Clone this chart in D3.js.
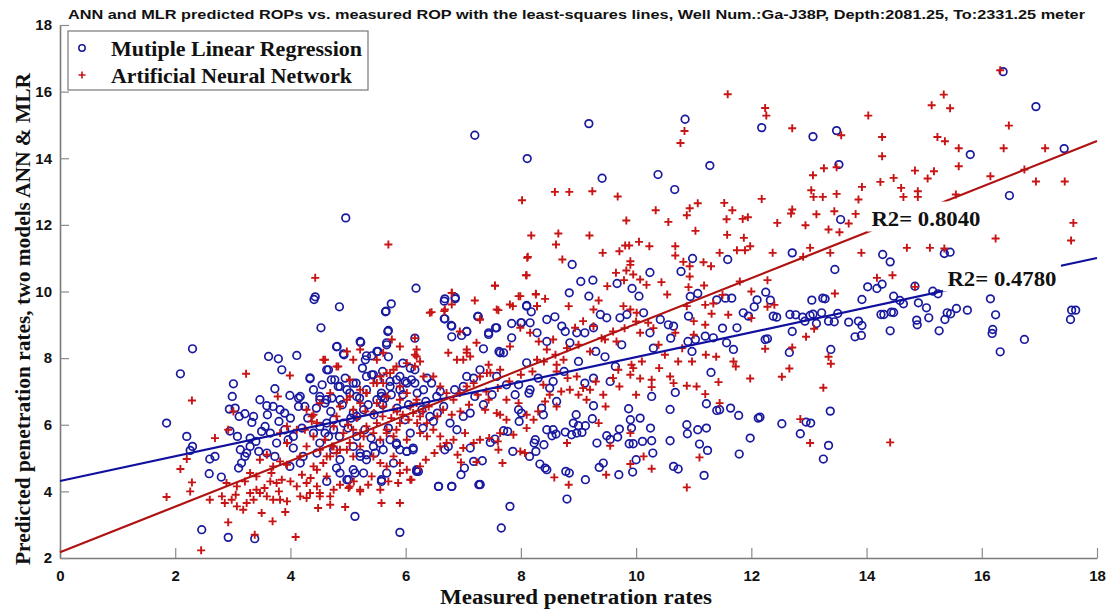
<!DOCTYPE html>
<html>
<head>
<meta charset="utf-8">
<script src="https://cdn.jsdelivr.net/npm/d3@7"></script>
<style>
  html, body { margin: 0; padding: 0; background: #fff; }
  svg { display: block; }
</style>
</head>
<body>
<svg id="chart" width="1110" height="612"></svg>
<script>
// ---- data: [measured ROP, predicted ROP] ----
const mlrPoints = [
  [16.37,16.6],[16.94,15.55],[12.18,14.92],[13.07,14.65],[13.48,14.83],[13.52,13.81],[15.8,14.11],[17.43,14.29],[16.48,12.88],[13.55,12.16],
  [10.85,15.17],[9.18,15.04],[7.2,14.69],[8.11,13.99],[9.41,13.4],[10.38,13.51],[11.28,13.78],[10.67,13.06],
  [8.89,10.81],[9.04,10.3],[9.25,10.34],[8.84,9.96],[10.24,10.57],[10.78,10.6],[10.98,10.99],[11.59,10.96],[9.67,10.24],[9.93,10.09],[9.18,9.86],[10.05,9.86],[10.94,9.85],[11.07,9.94],[11.55,9.8],[11.66,9.8],[6.68,9.78],[6.86,9.82],
  [4.96,12.21],[6.18,10.1],[4.43,9.84],
  [12.71,11.16],[14.28,11.11],[14.41,10.89],[15.35,11.14],[15.45,11.18],[13.45,10.66],[14.02,10.14],[14.18,10.09],[14.27,10.22],[14.84,10.16],[15.15,10.01],[15.24,9.93],[12.25,9.98],[12.33,9.74],[12.05,9.54],[13.05,9.74],[13.24,9.8],[13.28,9.78],[13.92,9.76],[14.47,9.86],[14.58,9.73],[14.64,9.63],[14.9,9.66],[15.04,9.51],
  [12.38,9.26],[12.44,9.23],[12.67,9.31],[12.77,9.3],[12.89,9.23],[12.93,9.11],[13.02,9.28],[13.07,9.32],[13.13,9.04],[13.22,9.36],[13.34,9.11],[13.44,9.09],[13.5,9.34],[13.69,9.08],[13.86,9.11],[13.92,8.98],[13.8,8.64],[13.91,8.68],[14.25,9.31],[14.3,9.31],[14.43,9.38],[14.47,9.37],[14.41,8.82],[14.87,9.14],[14.88,9.0],[15.08,9.21],[15.26,8.82],[15.36,9.16],[15.4,9.36],[15.46,9.33],[15.56,9.49],[15.75,9.44],[16.15,9.78],[16.24,9.3],[16.19,8.86],[16.18,8.74],[16.32,8.19],[16.74,8.56],[17.56,9.44],[17.63,9.44],[17.54,9.16],
  [12.71,8.8],[12.24,8.56],[12.28,8.58],[12.66,8.17],[13.38,8.26],[13.37,6.41],[12.15,6.23],[12.53,6.03],[12.95,6.08],[13.03,6.05],[12.85,5.73],[13.34,5.38],[13.25,4.97],
  [10.27,6.85],[10.59,6.46],[10.68,6.97],[11.22,6.63],[11.3,7.57],[11.4,6.43],[11.45,6.45],[11.64,6.5],[11.78,6.28],[12.12,6.2],[11.98,5.6],[11.79,5.12],[10.88,6.0],[10.89,5.73],[11.07,5.85],[11.22,5.9],[11.1,5.42],[11.24,5.23],[11.18,4.48],[10.65,4.75],[10.73,4.67],[10.59,5.52],[10.29,5.15],[10.25,5.9],[10.27,5.52],[10.11,5.5],[10.07,6.2],[9.9,6.15],[9.87,6.48],[9.92,5.9],[9.88,5.43],[9.95,5.43],[9.71,5.87],[9.68,5.63],[9.49,5.67],[9.55,5.56],[9.32,5.45],[10.0,4.95],[9.94,4.58],[9.7,4.5],[9.43,4.85],[9.36,4.72],[9.12,4.35],[8.78,4.6],[8.84,4.55],[8.8,3.77],
  [8.97,5.75],[9.06,5.77],[9.0,5.97],[9.12,5.97],[8.91,6.05],[8.96,6.3],[9.24,6.18],[9.26,6.57],[8.88,5.7],[8.77,5.78],[8.56,5.85],[8.61,5.72],[8.54,5.67],[8.45,5.85],[8.4,5.4],[8.33,4.82],[8.42,4.7],[8.45,4.65],[8.26,5.2],[8.25,5.55],[8.23,5.45],[8.15,5.05],[7.81,3.55],[7.66,2.9],[7.27,4.2],[7.29,4.21],[6.8,4.15],[6.57,4.15],[6.96,4.5],[7.02,4.7],[7.18,4.9],[7.33,4.92],[7.12,5.3],[7.86,5.2],[7.7,5.82],[7.77,5.8],[7.47,5.47],[7.55,5.57],[7.96,6.45],[8.01,6.35],[7.97,6.1],[8.16,7.05],[8.14,6.95],[8.62,6.7],[8.39,6.3],[8.36,6.5],
  [6.68,9.18],[6.8,8.96],[7.06,8.8],[7.25,9.25],[7.44,8.76],[7.58,8.91],[7.35,8.28],[7.62,8.2],[7.7,8.16],[7.84,9.04],[8.01,9.06],[8.1,9.58],[8.28,8.76],[8.45,8.5],[8.59,9.24],[8.71,8.96],[8.77,8.8],[8.85,8.46],[8.97,8.76],[9.11,8.76],[9.26,8.91],[9.38,9.31],[9.49,9.21],[9.72,9.21],[9.84,9.31],[9.46,8.04],[9.64,7.75],[9.55,7.3],[9.26,7.4],[9.11,7.25],[8.56,7.3],[8.1,7.86],[7.96,7.2],[7.75,7.2],[7.58,7.45],[7.18,7.4],[7.29,7.65],[7.0,7.15],[7.06,7.45],
  [10.13,9.36],[10.24,8.76],[10.42,9.16],[10.56,9.0],[10.65,8.96],[10.91,9.26],[11.03,8.56],[11.2,8.66],[11.34,8.61],[11.57,8.46],[11.69,8.26],[11.86,9.36],[11.95,9.26],[11.75,8.91],[10.97,8.2],[11.4,9.75],[12.1,9.75],
  [2.3,8.28],[2.09,7.53],[1.85,6.05],[2.2,5.65],[2.3,5.35],[2.26,5.23],[2.46,2.85],[2.92,2.62],[3.38,2.58],[5.12,3.25],[5.9,2.77],[2.59,4.53],[2.8,4.43],[3.01,7.23],[2.99,6.85],[2.94,6.47],[3.04,6.5],[2.95,5.81],[2.69,5.05],[2.6,4.97],
  [3.11,6.25],[3.21,6.33],[3.36,6.25],[3.33,6.07],[3.08,5.65],[3.3,5.6],[3.13,5.25],[3.24,5.15],[3.15,4.85],[3.1,4.7],[3.21,5.05],[3.47,6.75],[3.59,6.57],[3.7,6.55],[3.82,6.45],[3.9,6.35],[3.62,8.05],[3.79,7.98],[3.85,7.65],[4.11,8.08],[3.73,7.08],[3.99,6.88],[4.14,6.8],[3.56,5.95],[3.65,5.75],[3.76,5.45],[3.59,5.15],[3.73,5.05],[3.96,5.55],[4.05,5.3],[4.17,4.85],[4.22,5.05],[3.99,4.75],
  [4.34,7.38],[4.53,8.91],[4.41,9.76],[4.85,9.54],[5.65,9.39],[5.75,9.63],[5.69,8.8],[5.67,8.46],[4.81,8.35],[4.93,8.1],[5.22,8.47],[5.3,7.95],[5.41,8.07],[5.5,8.2],[5.7,8.04],[4.63,7.65],[4.71,7.35],[4.4,7.05],[4.51,6.75],[4.63,6.75],[4.25,6.55],[4.14,6.55],[4.83,7.15],[4.86,6.75],[4.98,7.05],[5.09,7.25],[5.15,6.85],[5.32,7.45],[5.44,7.5],[5.5,6.75],[5.58,6.85],[5.73,7.15],[5.84,7.35],[5.99,7.3],[6.08,7.7],[6.16,7.65],[6.16,8.6],[6.1,7.35],
  [5.09,6.35],[5.15,6.25],[5.27,6.45],[4.63,6.05],[4.75,6.15],[4.4,5.75],[4.51,5.45],[4.46,5.15],[4.75,5.25],[4.86,4.95],[4.8,4.7],[5.01,4.35],[5.12,4.55],[5.27,4.55],[4.63,4.3],[5.58,4.3],[5.67,4.55],[5.09,5.35],[5.21,5.15],[5.32,5.1],[5.47,5.15],[5.73,5.55],[5.84,5.4],[5.79,4.85],[6.02,5.2],[6.13,5.3],[6.19,4.6],[6.22,4.6],[5.99,6.15],[6.08,5.75],[6.28,6.45],[6.37,7.4],
  [5.66,9.41],[5.7,8.83],[5.21,8.5],[4.8,8.34],[4.92,8.13],[5.32,8.07],[5.52,8.2],[5.67,8.4],[6.67,9.71],[6.86,9.78],[6.67,9.18],[6.79,8.98],[6.8,8.64],[6.97,8.68],[7.06,8.8],[7.26,9.25],[7.44,8.71],[7.56,8.91],[7.64,8.16],[7.84,8.61],[8.0,9.06],[8.16,9.06],[8.1,9.56],[8.18,9.39],[8.45,9.16],
  [4.17,6.85],[4.34,7.41],[4.51,6.85],[4.6,6.65],[4.72,6.8],[4.66,7.65],[4.77,7.35],[4.86,7.15],[5.03,6.95],[5.14,7.25],[5.32,7.05],[5.41,7.5],[5.52,7.35],[5.64,6.8],[5.58,6.95],[5.73,7.3],[5.9,7.05],[6.02,7.25],[5.9,7.45],[6.16,7.25],[6.31,7.05],[6.45,7.25],[6.54,6.85],[6.66,6.55],[6.77,6.05],[6.89,5.85],[7.0,6.25],[7.12,6.35],
  [4.51,5.95],[4.66,5.65],[4.75,5.85],[4.92,6.05],[5.15,5.65],[5.29,5.85],[5.44,5.35],[5.61,5.25],[5.84,5.45],[5.9,5.25],[6.02,5.2],[6.13,5.25],[6.48,6.1],[6.42,6.25],[5.21,5.05],[5.32,4.95],[5.09,4.65],[4.98,4.35],[4.86,4.55],[5.58,4.35],[6.19,4.65],[6.57,4.15],[6.8,4.15],[7.29,4.2],[6.68,5.25],[6.74,5.35],
  [4.3,6.2],[4.45,6.5],[4.7,6.4],[4.9,6.6],[5.05,6.2],[5.2,6.8],[5.35,6.6],[5.45,6.3],[5.6,6.6],[5.75,6.9],[5.85,6.5],[5.95,6.9],[6.05,6.6],[6.2,6.95],[6.35,6.7],[4.55,7.2],[4.95,7.4],[5.25,7.7],[5.6,7.6],[5.95,7.85],
  [3.4,5.5],[3.5,5.8],[3.6,6.3],[3.8,6.1],[3.9,5.85],[3.3,5.35],[3.45,5.2],[4.0,6.2],[4.2,5.9],[4.05,5.65],[4.6,5.75],[4.85,5.65],[5.0,5.9],[5.4,5.6],[5.7,5.9],[5.55,5.45],[6.3,5.9],[6.55,6.35],[6.6,7.0],[6.85,7.05],
  [7.2,6.85],[7.35,6.6],[7.5,6.9],[7.9,6.9],[8.3,7.4],[8.5,7.1],[8.75,7.6],[9.0,7.9],[9.3,8.2],[9.75,8.4],[10.3,8.3],[10.6,8.6],[10.9,8.5],[11.5,8.9]
];

const annPoints = [
  [11.59,15.92],[10.84,14.82],[10.77,14.46],[8.02,12.74],[8.59,12.99],[8.84,12.99],[9.24,13.01],[9.68,12.85],[9.83,12.13],[10.56,12.09],[10.34,12.44],[10.93,12.5],[11.07,12.65],[10.88,12.29],[11.03,11.82],[11.53,12.66],[11.67,12.44],[11.57,12.17],[11.85,12.18],[11.94,12.23],[11.58,11.7],[11.87,11.61],[11.98,11.36],[11.75,11.24],[11.89,11.24],[11.45,11.16],
  [8.18,11.68],[8.65,11.74],[8.61,11.41],[9.19,11.68],[8.11,11.01],[8.72,10.96],[8.09,10.49],[7.55,10.17],[6.8,9.96],[7.96,9.86],[8.26,9.91],[9.42,11.16],[9.71,11.21],[9.81,11.38],[9.88,11.38],[10.05,11.49],[10.23,11.36],[9.9,10.91],[9.9,10.8],[9.65,10.56],[9.83,10.63],[9.95,10.51],[10.07,10.36],[9.79,10.34],[9.5,10.16],[10.18,10.2],[10.44,10.28],[10.68,11.08],[10.68,11.36],[10.82,10.89],[10.93,10.76],[10.93,10.45],[10.91,10.13],[11.18,10.18],[11.3,10.76],[11.17,10.88],[10.54,9.91],
  [5.7,11.41],[4.43,10.41],
  [12.24,15.51],[12.26,15.28],[12.71,14.9],[14.03,15.28],[13.56,14.69],[15.13,15.59],[15.34,15.91],[15.45,15.5],[16.32,16.64],[16.47,14.98],[14.27,14.64],[14.27,14.06],[15.23,14.64],[15.36,14.51],[15.6,14.3],[15.6,13.76],[16.38,14.3],[17.1,14.3],[16.15,13.46],[16.74,13.66],[16.94,13.3],[17.44,13.3],[15.55,12.91],[14.84,13.63],[15.17,13.61],[15.06,13.39],[14.47,13.41],[14.24,13.29],[14.6,13.11],[14.64,12.84],[14.89,13.01],[14.89,12.84],
  [13.07,13.49],[13.26,13.7],[13.48,13.73],[13.04,13.04],[13.08,12.84],[13.24,12.84],[13.48,12.93],[13.92,13.14],[13.86,12.76],[12.18,12.78],[12.71,12.46],[12.69,12.34],[13.13,12.32],[13.44,12.41],[13.81,12.33],[12.45,12.06],[12.94,11.99],[13.34,11.86],[13.53,11.78],[13.69,12.04],[17.59,12.06],[17.55,11.53],[16.24,11.59],[13.02,11.31],[14.7,11.31],[15.1,11.31],[15.35,11.29],
  [12.37,11.16],[12.9,11.04],[13.37,11.16],[13.91,11.16],[14.18,10.41],[14.45,10.49],[12.28,10.34],[12.28,9.54],[13.45,9.94],[14.84,10.14],[12.95,8.64],[13.09,8.88],[12.24,8.28],[12.71,8.32],[12.66,7.69],[12.53,7.44],[13.34,8.04],[13.38,7.83],[13.25,7.11],[12.85,6.17],[13.02,5.45],[14.41,5.47],
  [11.5,9.9],[11.8,10.3],[12.0,10.0],[11.2,9.6],
  [10.88,4.12],[11.1,5.02],[10.27,4.68],[10.13,5.05],[9.9,4.82],[9.48,4.5],[8.83,4.2],[8.58,4.42],[7.68,4.85],[6.96,4.87],[7.23,4.88],[7.61,5.25],[8.07,5.15],[9.55,5.37],[9.9,5.75],[11.98,7.39],[11.43,7.28],[11.2,6.92],[11.45,6.65],[11.05,7.15],[10.88,7.17],[10.73,7.9],[10.97,7.9],[10.59,7.45],[10.65,7.25],[10.27,7.35],[10.27,7.13],[10.07,7.39],[10.0,6.9],[9.71,7.15],[9.92,7.8],[9.95,7.7],[11.21,8.1],[11.39,8.04],[11.69,7.9],[11.73,7.75],[10.39,8.4],[10.68,8.76],[11.34,9.64],[11.31,9.33],
  [9.14,6.75],[9.43,6.9],[9.47,6.55],[9.2,7.05],[9.08,7.1],[8.85,7.05],[8.97,7.45],[8.81,7.4],[8.62,7.6],[8.42,6.7],[8.39,7.2],[8.22,6.15],[8.1,5.9],[7.96,6.65],[7.75,6.75],[7.64,6.3],[7.58,6.35],[7.75,6.15],[7.44,6.75],[7.38,6.45],[7.29,5.55],[7.18,5.45],[7.03,5.75],[7.64,5.75],[7.87,5.7],[7.99,5.2],[8.8,5.45],[9.35,6.05],[8.62,6.55],
  [6.42,9.36],[6.68,9.46],[6.94,8.8],[7.12,8.05],[7.0,7.95],[7.06,8.16],[7.29,9.16],[7.23,8.46],[7.44,7.8],[7.47,7.56],[7.58,9.46],[7.81,9.61],[7.81,8.35],[7.64,7.65],[7.99,8.91],[8.16,8.76],[8.28,9.56],[8.31,8.5],[8.45,8.26],[8.28,7.95],[8.56,8.56],[8.62,7.8],[8.74,7.95],[8.94,8.91],[9.08,9.11],[9.26,8.96],[8.83,9.56],[9.35,9.73],[9.26,9.46],[9.46,8.56],[9.66,8.5],[9.78,9.56],[9.9,9.46],[10.01,9.36],[10.07,8.76],[10.21,9.06],[9.69,7.65],[10.88,9.56],[11.0,9.11],
  [1.85,3.83],[2.09,4.67],[2.2,4.97],[2.29,4.27],[2.26,4.0],[2.29,6.73],[2.45,2.23],[2.92,3.07],[3.38,2.7],[4.09,2.63],[3.23,7.53],[3.99,7.48],[3.69,3.1],[3.5,3.35],[3.91,3.38],
  [2.6,3.75],[2.81,3.85],[2.86,3.65],[2.98,3.75],[3.07,3.55],[3.18,3.45],[3.24,3.65],[3.36,3.75],[3.47,3.95],[3.59,3.85],[3.7,3.75],[3.82,3.75],[3.94,3.7],[2.89,4.25],[3.07,4.15],[3.21,4.3],[3.41,4.05],[3.65,4.3],[3.76,4.25],[3.3,4.55],[3.41,4.45],[3.67,4.55],[3.85,4.35],
  [4.11,4.15],[4.17,3.85],[4.28,3.8],[4.46,4.15],[4.51,3.95],[4.69,3.85],[4.86,4.2],[5.01,4.1],[5.21,4.0],[5.56,4.05],[5.58,3.65],[5.9,3.65],[5.87,4.25],[5.9,4.55],[4.48,3.5],[4.69,3.6],[4.95,3.53],
  [2.69,5.6],[2.92,5.85],[3.01,6.4],[3.94,5.45],[4.17,5.05],[4.28,5.35],[3.82,4.9],[3.94,4.8],[3.7,4.75],[3.47,4.95],[3.59,5.1],[4.4,4.75],[4.57,4.85],[4.69,5.05],[4.8,5.15],[4.75,5.35],[4.98,5.25],[5.09,5.05],[5.21,5.35],[5.44,5.05],[5.56,4.85],[5.67,4.75],[5.79,5.05],[6.1,4.35],[6.25,4.75],
  [4.57,7.95],[4.8,7.75],[4.98,8.2],[5.21,8.26],[5.61,8.16],[5.76,8.56],[6.16,8.6],[6.16,8.1],[6.25,7.9],[4.28,6.45],[4.4,6.3],[4.51,6.65],[4.69,6.95],[4.86,6.55],[4.98,6.75],[5.03,7.35],[5.21,7.05],[5.32,6.95],[5.5,7.25],[5.67,7.55],[5.79,7.65],[5.9,7.15],[6.02,6.95],[6.19,6.75],
  [4.75,5.95],[4.92,5.75],[5.09,5.85],[5.27,5.65],[5.44,5.75],[5.56,5.55],[5.67,5.75],[5.84,5.85],[6.02,5.55],[6.25,5.75],[6.37,5.65],[4.11,5.85],[4.37,6.1],[3.94,5.95],[3.82,5.75],[3.78,6.85],
  [8.12,11.04],[8.1,10.49],[7.55,10.18],[6.45,9.38],[6.67,9.41],[6.8,9.96],[6.8,9.61],[7.2,9.73],[7.61,9.44],[7.86,9.56],[7.99,9.86],[8.26,9.93],[8.28,9.56],[8.42,9.78],[7.29,9.16],[6.19,8.05],
  [4.37,6.25],[4.46,6.05],[4.25,5.85],[4.4,5.65],[4.6,5.55],[4.72,5.35],[4.51,5.25],[4.63,5.05],[4.86,5.25],[4.46,4.65],[4.63,4.45],[4.28,4.25],[4.34,3.95],[4.51,3.85],[4.75,4.05],[5.03,4.15],[5.21,4.05],[5.41,4.45],
  [5.03,5.45],[5.21,5.75],[5.32,5.95],[5.5,6.05],[5.67,5.85],[5.79,5.65],[5.9,6.05],[5.5,6.65],[5.61,6.55],[5.67,6.85],[5.79,6.45],[5.9,6.75],[6.08,6.55],[6.19,6.65],[6.13,6.35],[6.25,6.25],[6.37,6.05],[6.48,5.85],[6.6,5.65],[6.71,5.45],[6.83,5.55],[5.9,4.85],[6.02,4.65],[6.08,4.35],
  [5.32,6.95],[5.44,7.25],[5.56,7.45],[5.21,6.65],[5.09,6.45],[5.03,6.85],[5.61,7.25],[5.73,7.55],[5.84,7.75],[6.02,7.85],[6.16,7.75],[6.31,7.45],[6.48,7.45],[6.6,7.15],[6.71,6.95],[6.83,6.75],[6.94,6.95],[7.06,7.15],[7.18,7.25],[7.29,7.45],[7.41,7.55],
  [4.8,6.25],[6.74,8.16],[6.89,7.95],[7.06,8.26],[6.19,8.26],[5.9,8.35],[5.5,7.95],[5.09,7.95],[4.6,7.95],[4.83,7.75],
  [5.0,6.0],[5.15,6.2],[5.3,6.4],[5.45,6.35],[5.6,6.25],[5.75,6.2],[5.85,6.4],[5.95,6.3],[6.05,6.15],[6.2,6.05],[6.3,6.4],[6.4,6.55],[6.55,6.25],[6.65,6.45],[6.8,6.3],[6.95,6.4],[7.1,6.6],[7.25,6.9],[7.4,7.0],[7.6,7.1],[7.8,7.3],[8.0,7.5],[8.2,7.6],[8.4,7.9],[8.6,8.1],[8.8,8.3],[9.0,8.4],[9.2,8.2],[9.4,8.6],[9.6,8.8],[9.8,8.9],[10.0,9.1],
  [3.05,3.9],[3.3,3.95],[3.55,4.1],[3.8,4.0],[4.0,4.3],[4.2,4.5],[4.35,4.4],[5.1,4.3],[5.35,4.2],[5.7,4.3],[6.35,4.95],[6.5,5.15],[6.6,5.35],[6.9,5.1],[7.0,5.3],[7.45,5.6],[7.6,5.5],
  [8.1,6.3],[8.3,6.4],[8.5,6.9],[8.7,7.0],[9.0,6.9],[9.3,7.3],[9.6,7.4],[9.9,7.5],[10.1,7.9],[10.4,7.7],[10.5,8.1],[10.8,8.3],[10.3,8.9],[11.0,8.7],[11.2,9.0],[11.6,9.3],[12.0,9.2],[12.4,9.6]
];

// least-squares lines: predicted = intercept + slope * measured
const mlrFit = { intercept: 4.31, slope: 0.372, r2: "0.4780" };
const annFit = { intercept: 2.17, slope: 0.686, r2: "0.8040" };

const xTicks = [0, 2, 4, 6, 8, 10, 12, 14, 16, 18];
const yTicks = [2, 4, 6, 8, 10, 12, 14, 16, 18];

const titleText = "ANN and MLR predicted ROPs vs. measured ROP with the least-squares lines, Well Num.:Ga-J38P, Depth:2081.25, To:2331.25 meter";
const xLabel = "Measured penetration rates";
const yLabel = "Predicted penetration rates, two models ANN & MLR";
const legendLabels = ["Mutiple Linear Regression", "Artificial Neural Network"];

// ---- drawing ----
const svg = d3.select("#chart");
const x = d3.scaleLinear().domain([0, 18]).range([60, 1097]);
const y = d3.scaleLinear().domain([2, 18]).range([558, 25]);

const BLUE = "#1a1aa0";
const RED = "#c81414";
const BLUE_LINE = "#10109e";
const RED_LINE = "#b01212";
const sans = "'Liberation Sans', Arial, sans-serif";
const serif = "'Liberation Serif', 'Times New Roman', serif";

// title
svg.append("text")
  .attr("x", 68).attr("y", 19)
  .attr("font-family", sans).attr("font-weight", "bold").attr("font-size", 13)
  .attr("textLength", 1017).attr("lengthAdjust", "spacingAndGlyphs")
  .attr("fill", "#111")
  .text(titleText);

// axes
const xAxis = svg.append("g")
  .attr("transform", `translate(0,${y(2)})`)
  .call(d3.axisBottom(x).tickValues(xTicks).tickSizeInner(-10).tickSizeOuter(0).tickPadding(12));
const yAxis = svg.append("g")
  .attr("transform", `translate(${x(0)},0)`)
  .call(d3.axisLeft(y).tickValues(yTicks).tickSizeInner(-9).tickSizeOuter(0).tickPadding(8));

[xAxis, yAxis].forEach(g => {
  g.select(".domain").attr("stroke", "#7a7a7a").attr("stroke-width", 1.6);
  g.selectAll(".tick line").attr("stroke", "#8c8c8c").attr("stroke-width", 1.2);
  g.selectAll(".tick text")
    .attr("font-family", sans).attr("font-weight", "bold").attr("font-size", 15)
    .attr("fill", "#111");
});

// MLR predictions (circles)
svg.append("g").selectAll("circle")
  .data(mlrPoints).join("circle")
  .attr("cx", d => x(d[0])).attr("cy", d => y(d[1]))
  .attr("r", 3.8)
  .attr("fill", "none").attr("stroke", BLUE).attr("stroke-width", 1.7);

// ANN predictions (plus markers)
svg.append("g").selectAll("path")
  .data(annPoints).join("path")
  .attr("transform", d => `translate(${x(d[0])},${y(d[1])})`)
  .attr("d", "M-4,0H4M0,-4V4")
  .attr("fill", "none").attr("stroke", RED).attr("stroke-width", 1.9);

// least-squares lines
const line = d3.line().x(d => x(d[0])).y(d => y(d[1]));
const fitLine = f => x.domain().map(m => [m, f.intercept + f.slope * m]);
svg.append("path").attr("d", line(fitLine(mlrFit)))
  .attr("fill", "none").attr("stroke", BLUE_LINE).attr("stroke-width", 2.2);
svg.append("path").attr("d", line(fitLine(annFit)))
  .attr("fill", "none").attr("stroke", RED_LINE).attr("stroke-width", 2.2);

// R2 annotations on white boxes
function r2Label(fit, cxVal, baseVal) {
  const cx = x(cxVal), by = y(baseVal);
  const g = svg.append("g");
  g.append("rect").attr("x", cx - 59).attr("y", by - 24).attr("width", 118).attr("height", 30).attr("fill", "#fff");
  g.append("text").attr("x", cx).attr("y", by)
    .attr("text-anchor", "middle")
    .attr("font-family", serif).attr("font-weight", "bold").attr("font-size", 20)
    .attr("textLength", 109).attr("lengthAdjust", "spacingAndGlyphs")
    .attr("fill", "#111")
    .text("R2= " + fit.r2);
}
r2Label(annFit, 15.03, 11.98);
r2Label(mlrFit, 16.35, 10.18);

// legend
const lg = svg.append("g");
lg.append("rect").attr("x", 68).attr("y", 31).attr("width", 300).attr("height", 59)
  .attr("fill", "#fff").attr("stroke", "#777").attr("stroke-width", 1.2);
lg.append("circle").attr("cx", 82).attr("cy", 48).attr("r", 3.2)
  .attr("fill", "none").attr("stroke", BLUE).attr("stroke-width", 1.5);
lg.append("path").attr("transform", "translate(82,75)").attr("d", "M-3.5,0H3.5M0,-3.5V3.5")
  .attr("fill", "none").attr("stroke", RED).attr("stroke-width", 1.6);
lg.selectAll("text.leg").data(legendLabels).join("text")
  .attr("class", "leg")
  .attr("x", 111).attr("y", (d, i) => 56 + i * 27)
  .attr("font-family", serif).attr("font-weight", "bold").attr("font-size", 21)
  .attr("textLength", (d, i) => i === 0 ? 251 : 241).attr("lengthAdjust", "spacingAndGlyphs")
  .attr("fill", "#111")
  .text(d => d);

// axis titles
svg.append("text")
  .attr("x", 576).attr("y", 604)
  .attr("text-anchor", "middle")
  .attr("font-family", serif).attr("font-weight", "bold").attr("font-size", 20)
  .attr("textLength", 272).attr("lengthAdjust", "spacingAndGlyphs")
  .attr("fill", "#111")
  .text(xLabel);
svg.append("text")
  .attr("transform", "translate(30,319) rotate(-90)")
  .attr("text-anchor", "middle")
  .attr("font-family", serif).attr("font-weight", "bold").attr("font-size", 20)
  .attr("textLength", 492).attr("lengthAdjust", "spacingAndGlyphs")
  .attr("fill", "#111")
  .text(yLabel);
</script>
</body>
</html>
